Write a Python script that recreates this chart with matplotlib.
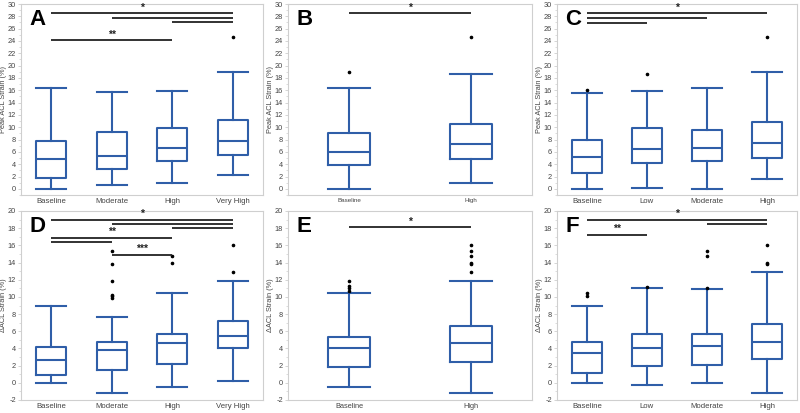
import matplotlib
matplotlib.use("Agg")
import matplotlib.pyplot as plt
from matplotlib.ticker import MultipleLocator

plt.rcParams['font.family'] = ['Liberation Sans', 'DejaVu Sans']
plt.rcParams['axes.unicode_minus'] = False

# ---------------- data ----------------
A_cats = ["Baseline", "Moderate", "High", "Very High"]
A_box = [[0.0, 1.8, 4.8, 7.8, 16.4],
         [0.7, 3.2, 5.3, 9.3, 15.7],
         [1.0, 4.5, 6.7, 9.8, 15.9],
         [2.3, 5.5, 7.8, 11.2, 19.0]]
A_fliers = [[], [], [], [24.7]]
A_sig = [(1, 4, 28.5), (2, 4, 27.8), (3, 4, 27.0), (1, 3, 24.1)]
A_stars = [(2.5, 28.6, "*"), (2.0, 24.2, "**")]

B_cats = ["Baseline", "High"]
B_box = [[0.0, 3.9, 5.9, 9.1, 16.4],
         [1.0, 4.8, 7.2, 10.6, 18.6]]
B_fliers = [[19.0], [24.7]]
B_sig = [(1, 2, 28.5)]
B_stars = [(1.5, 28.6, "*")]

C_cats = ["Baseline", "Low", "Moderate", "High"]
C_box = [[0.0, 2.5, 5.1, 7.9, 15.6],
         [0.1, 4.2, 6.4, 9.8, 15.8],
         [0.0, 4.5, 6.7, 9.6, 16.4],
         [1.6, 5.0, 7.4, 10.8, 19.0]]
C_fliers = [[16.0], [18.6], [], [24.7]]
C_sig = [(1, 4, 28.5), (1, 3, 27.7), (1, 2, 26.9)]
C_stars = [(2.5, 28.6, "*")]

D_cats = ["Baseline", "Moderate", "High", "Very High"]
D_box = [[0.0, 0.9, 2.6, 4.2, 9.0],
         [-1.2, 1.5, 3.8, 4.7, 7.7],
         [-0.5, 2.2, 4.6, 5.7, 10.5],
         [0.2, 4.0, 5.5, 7.2, 11.8]]
D_fliers = [[], [9.9, 10.1, 10.2, 11.8, 13.8, 15.3], [14.0, 14.8], [12.9, 16.0]]
D_sig = [(1, 4, 19.0), (2, 4, 18.5), (3, 4, 18.0), (1, 3, 16.9), (1, 2, 16.4), (2, 3, 14.9)]
D_stars = [(2.5, 19.1, "*"), (2.0, 17.0, "**"), (2.5, 15.0, "***")]

E_cats = ["Baseline", "High"]
E_box = [[-0.5, 1.8, 4.0, 5.3, 10.4],
         [-1.2, 2.4, 4.6, 6.6, 11.8]]
E_fliers = [[10.7, 11.0, 11.3, 11.8], [12.9, 13.8, 14.0, 14.8, 15.3, 16.0]]
E_sig = [(1, 2, 18.1)]
E_stars = [(1.5, 18.2, "*")]

F_cats = ["Baseline", "Low", "Moderate", "High"]
F_box = [[0.0, 1.2, 3.5, 4.7, 9.0],
         [-0.2, 2.0, 4.1, 5.7, 11.0],
         [0.0, 2.1, 4.3, 5.7, 10.9],
         [-1.2, 2.8, 4.7, 6.9, 12.9]]
F_fliers = [[10.1, 10.4], [11.2], [11.0, 14.8, 15.3], [13.8, 14.0, 16.0]]
F_sig = [(1, 4, 19.0), (3, 4, 18.5), (1, 2, 17.2)]
F_stars = [(2.5, 19.1, "*"), (1.5, 17.3, "**")]

# ---------------- style ----------------
BLUE = "#2f5ea8"
FRAME = "#cfcfcf"
TXT = "#444444"

fig = plt.figure(figsize=(8.0, 4.13), dpi=100)
H = 413.0
W = 800.0

def rect(x0, x1, ytop, ybot):
    return [x0 / W, 1 - ybot / H, (x1 - x0) / W, (ybot - ytop) / H]

panels = [
    ("A", A_cats, A_box, A_fliers, A_sig, A_stars, rect(21, 263, 4, 195), (-1, 30), "Peak ACL Strain (%)", 0.5, 5.6),
    ("B", B_cats, B_box, B_fliers, B_sig, B_stars, rect(288, 532, 4, 195), (-1, 30), "Peak ACL Strain (%)", 0.35, 4.5),
    ("C", C_cats, C_box, C_fliers, C_sig, C_stars, rect(557, 797, 4, 195), (-1, 30), "Peak ACL Strain (%)", 0.5, 5.6),
    ("D", D_cats, D_box, D_fliers, D_sig, D_stars, rect(21, 263, 211, 400), (-2, 20), "\u0394ACL Strain (%)", 0.5, 5.6),
    ("E", E_cats, E_box, E_fliers, E_sig, E_stars, rect(288, 532, 211, 400), (-2, 20), "\u0394ACL Strain (%)", 0.35, 5.3),
    ("F", F_cats, F_box, F_fliers, F_sig, F_stars, rect(557, 797, 211, 400), (-2, 20), "\u0394ACL Strain (%)", 0.5, 5.6),
]

for letter, cats, box, fliers, sig, stars, r, ylim, ylabel, bw, xfs in panels:
    ax = fig.add_axes(r)
    stats = []
    for c, b, f in zip(cats, box, fliers):
        stats.append(dict(label=c, whislo=b[0], q1=b[1], med=b[2], q3=b[3], whishi=b[4], fliers=f))
    pos = list(range(1, len(cats) + 1))
    ax.bxp(stats, positions=pos, widths=bw, showfliers=True,
           boxprops=dict(color=BLUE, linewidth=1.5),
           medianprops=dict(color=BLUE, linewidth=1.5),
           whiskerprops=dict(color=BLUE, linewidth=1.5),
           capprops=dict(color=BLUE, linewidth=1.5),
           capwidths=bw,
           flierprops=dict(marker="o", markersize=1.6, markerfacecolor="black",
                           markeredgecolor="black", linestyle="none"))
    ax.set_xlim(0.5, len(cats) + 0.5)
    ax.set_ylim(*ylim)
    ax.yaxis.set_major_locator(MultipleLocator(2))
    ax.yaxis.set_minor_locator(MultipleLocator(1))
    for s in ax.spines.values():
        s.set_color(FRAME)
        s.set_linewidth(0.8)
    ax.tick_params(axis="y", which="major", labelsize=5.3, colors=FRAME, labelcolor=TXT, length=2.5, width=0.6, pad=1)
    ax.tick_params(axis="y", which="minor", colors=FRAME, length=1.5, width=0.5)
    ax.tick_params(axis="x", which="major", labelsize=xfs, length=0, labelcolor=TXT, pad=2)
    ax.set_ylabel(ylabel, fontsize=5.3, color=TXT)
    ax.yaxis.set_label_coords(-0.058, 0.5)

    for (i, j, y) in sig:
        ax.plot([i, j], [y, y], color="#222222", linewidth=1.3, solid_capstyle="butt")
    for (x, y, s) in stars:
        ax.text(x, y, s, ha="center", va="bottom", fontsize=7.5, fontweight="bold", color="#222222")
    ax.text(0.035, 0.975, letter, transform=ax.transAxes, ha="left", va="top",
            fontsize=16, fontweight="bold", color="black")

fig.savefig("out.png", dpi=100)
